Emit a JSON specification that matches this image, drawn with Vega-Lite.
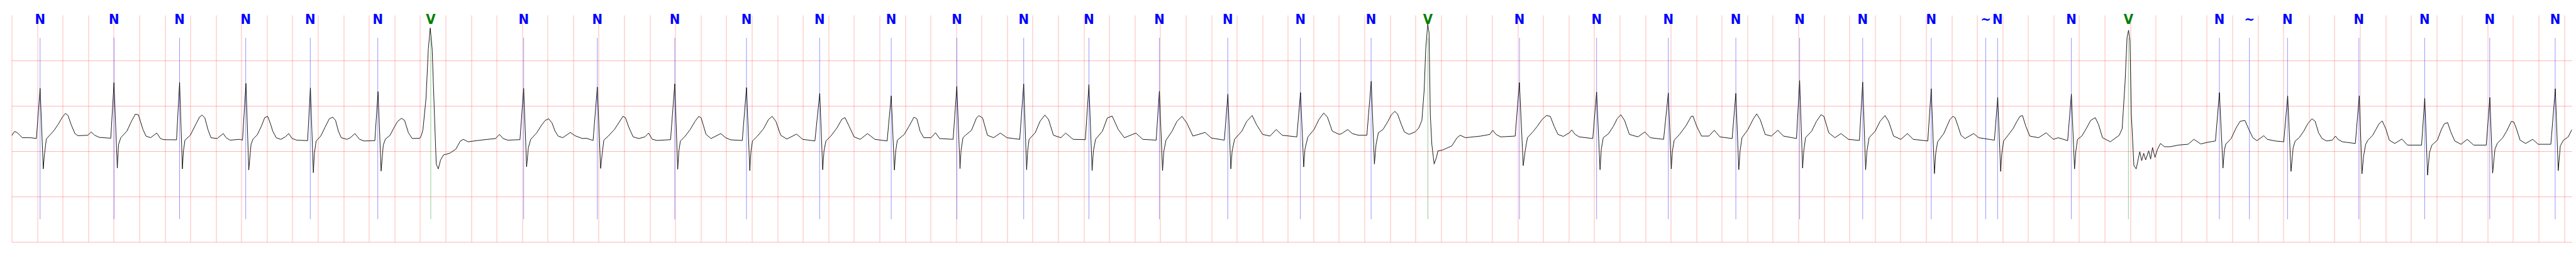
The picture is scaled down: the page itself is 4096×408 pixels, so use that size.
{
  "$schema": "https://vega.github.io/schema/vega-lite/v6.json",
  "width": 4071,
  "height": 360,
  "autosize": {"type": "none"},
  "padding": {"left": 18.5, "top": 24, "right": 6.5, "bottom": 24},
  "background": "white",
  "config": {
    "view": {"stroke": null},
    "axis": {"labels": false, "ticks": false, "domain": false, "grid": true, "gridColor": "#ff0000", "gridOpacity": 0.28, "gridWidth": 1}
  },
  "datasets": {
    "ecg": [
      {"t":0,"v":-0.16},{"t":0.023,"v":-0.065},{"t":0.041,"v":-0.087},{"t":0.065,"v":-0.149},{"t":0.083,"v":-0.203},{"t":0.149,"v":-0.203},{"t":0.194,"v":-0.221},{"t":0.223,"v":0.884},{"t":0.248,"v":-0.891},{"t":0.256,"v":-0.601},{"t":0.272,"v":-0.232},{"t":0.292,"v":-0.167},{"t":0.328,"v":-0.058},{"t":0.364,"v":0.087},{"t":0.4,"v":0.261},{"t":0.422,"v":0.333},{"t":0.442,"v":0.286},{"t":0.466,"v":0.087},{"t":0.496,"v":-0.112},{"t":0.52,"v":-0.159},{"t":0.598,"v":-0.149},{"t":0.622,"v":-0.076},{"t":0.651,"v":-0.149},{"t":0.687,"v":-0.196},{"t":0.777,"v":-0.214},{"t":0.802,"v":1.011},{"t":0.828,"v":-0.873},{"t":0.838,"v":-0.35},{"t":0.855,"v":-0.203},{"t":0.903,"v":-0.058},{"t":0.939,"v":0.159},{"t":0.969,"v":0.315},{"t":0.993,"v":0.304},{"t":1.029,"v":-0.022},{"t":1.053,"v":-0.167},{"t":1.089,"v":-0.203},{"t":1.137,"v":-0.101},{"t":1.166,"v":-0.221},{"t":1.19,"v":-0.246},{"t":1.292,"v":-0.25},{"t":1.316,"v":1.018},{"t":1.338,"v":-0.891},{"t":1.346,"v":-0.5},{"t":1.358,"v":-0.257},{"t":1.4,"v":-0.149},{"t":1.442,"v":0.087},{"t":1.472,"v":0.25},{"t":1.492,"v":0.297},{"t":1.514,"v":0.232},{"t":1.538,"v":-0.022},{"t":1.562,"v":-0.203},{"t":1.61,"v":-0.221},{"t":1.658,"v":-0.112},{"t":1.681,"v":-0.203},{"t":1.711,"v":-0.257},{"t":1.787,"v":-0.239},
      {"t":1.809,"v":-0.257},{"t":1.836,"v":0.993},{"t":1.858,"v":-0.917},{"t":1.876,"v":-0.348},{"t":1.892,"v":-0.232},{"t":1.925,"v":-0.138},{"t":1.957,"v":0.051},{"t":1.983,"v":0.239},{"t":2.006,"v":0.268},{"t":2.028,"v":0.105},{"t":2.046,"v":-0.058},{"t":2.073,"v":-0.203},{"t":2.109,"v":-0.239},{"t":2.144,"v":-0.185},{"t":2.171,"v":-0.112},{"t":2.198,"v":-0.221},{"t":2.234,"v":-0.257},{"t":2.319,"v":-0.268},{"t":2.341,"v":0.895},{"t":2.364,"v":-0.975},{"t":2.372,"v":-0.55},{"t":2.386,"v":-0.275},{"t":2.422,"v":-0.167},{"t":2.457,"v":0.033},{"t":2.489,"v":0.214},{"t":2.516,"v":0.25},{"t":2.538,"v":0.178},{"t":2.56,"v":-0.058},{"t":2.583,"v":-0.203},{"t":2.627,"v":-0.239},
      {"t":2.654,"v":-0.203},{"t":2.69,"v":-0.112},{"t":2.726,"v":-0.239},{"t":2.762,"v":-0.275},{"t":2.846,"v":-0.268},{"t":2.871,"v":0.812},{"t":2.895,"v":-0.938},{"t":2.912,"v":-0.366},{"t":2.929,"v":-0.232},{"t":2.965,"v":-0.149},{"t":2.995,"v":0.014},{"t":3.025,"v":0.159},{"t":3.055,"v":0.225},{"t":3.079,"v":0.178},{"t":3.109,"v":-0.094},{"t":3.139,"v":-0.221},{"t":3.199,"v":-0.214},{"t":3.211,"v":-0.15},{"t":3.223,"v":-0.022},{"t":3.247,"v":0.667},{"t":3.265,"v":1.754},{"t":3.28,"v":2.217},{"t":3.295,"v":1.75},{"t":3.313,"v":0.304},{"t":3.327,"v":-0.783},{"t":3.343,"v":-0.891},{"t":3.361,"v":-0.692},{"t":3.384,"v":-0.583},{"t":3.432,"v":-0.547},{"t":3.48,"v":-0.457},{"t":3.516,"v":-0.275},{"t":3.54,"v":-0.239},{"t":3.576,"v":-0.293},{"t":3.672,"v":-0.257},{"t":3.792,"v":-0.221},{"t":3.822,"v":-0.13},{"t":3.851,"v":-0.221},{"t":3.887,"v":-0.257},{"t":3.983,"v":-0.246},{"t":4.012,"v":0.884},{"t":4.035,"v":-0.844},{"t":4.049,"v":-0.42},{"t":4.067,"v":-0.239},{"t":4.115,"v":-0.094},{"t":4.151,"v":0.069},{"t":4.181,"v":0.178},{"t":4.208,"v":0.214},{"t":4.234,"v":0.123},{"t":4.258,"v":-0.058},{"t":4.282,"v":-0.167},{"t":4.318,"v":-0.203},{"t":4.378,"v":-0.087},{"t":4.414,"v":-0.159},{"t":4.472,"v":-0.221},
      {"t":4.502,"v":-0.214},{"t":4.556,"v":-0.264},{"t":4.589,"v":0.913},{"t":4.615,"v":-0.88},{"t":4.627,"v":-0.565},{"t":4.64,"v":-0.257},{"t":4.675,"v":-0.167},{"t":4.723,"v":-0.022},{"t":4.761,"v":0.141},{"t":4.79,"v":0.268},{"t":4.809,"v":0.239},{"t":4.838,"v":0.014},{"t":4.87,"v":-0.185},{"t":4.914,"v":-0.221},{"t":4.962,"v":-0.185},{"t":4.991,"v":-0.101},{"t":5.02,"v":-0.239},{"t":5.058,"v":-0.264},{"t":5.163,"v":-0.246},{"t":5.196,"v":0.986},{"t":5.219,"v":-0.899},{"t":5.228,"v":-0.5},{"t":5.24,"v":-0.275},{"t":5.278,"v":-0.167},{"t":5.317,"v":-0.022},{"t":5.355,"v":0.159},{"t":5.384,"v":0.268},{"t":5.403,"v":0.232},{"t":5.441,"v":-0.13},{"t":5.48,"v":-0.221},{"t":5.556,"v":-0.112},{"t":5.595,"v":-0.203},{"t":5.633,"v":-0.25},{"t":5.725,"v":-0.264},{"t":5.758,"v":0.902},{"t":5.784,"v":-0.928},{"t":5.793,"v":-0.5},{"t":5.805,"v":-0.275},{"t":5.844,"v":-0.167},{"t":5.892,"v":-0.004},{"t":5.93,"v":0.196},{"t":5.959,"v":0.268},{"t":5.988,"v":0.159},{"t":6.026,"v":-0.149},{"t":6.074,"v":-0.232},{"t":6.15,"v":-0.123},{"t":6.198,"v":-0.239},{"t":6.294,"v":-0.275},{"t":6.332,"v":0.775},{"t":6.355,"v":-0.909},{"t":6.365,"v":-0.5},{"t":6.38,"v":-0.275},{"t":6.419,"v":-0.167},{"t":6.467,"v":0.014},{"t":6.505,"v":0.203},{"t":6.53,"v":0.239},{"t":6.562,"v":0.051},{"t":6.601,"v":-0.185},{"t":6.649,"v":-0.239},{"t":6.706,"v":-0.112},{"t":6.764,"v":-0.239},{"t":6.86,"v":-0.275},{"t":6.892,"v":0.721},{"t":6.917,"v":-0.917},{"t":6.927,"v":-0.5},{"t":6.94,"v":-0.257},{"t":6.994,"v":-0.13},{"t":7.032,"v":0.051},{"t":7.07,"v":0.25},{"t":7.093,"v":0.214},{"t":7.118,"v":-0.058},{"t":7.147,"v":-0.203},{"t":7.204,"v":-0.203},{"t":7.239,"v":-0.094},{"t":7.271,"v":-0.221},{"t":7.377,"v":-0.239},{"t":7.406,"v":0.928},{"t":7.431,"v":-0.884},
      {"t":7.439,"v":-0.49},{"t":7.454,"v":-0.203},{"t":7.474,"v":-0.149},{"t":7.521,"v":-0.04},{"t":7.56,"v":0.232},{"t":7.579,"v":0.283},{"t":7.608,"v":0.232},{"t":7.646,"v":-0.149},{"t":7.694,"v":-0.203},{"t":7.747,"v":-0.101},{"t":7.799,"v":-0.203},{"t":7.899,"v":-0.239},{"t":7.93,"v":0.982},{"t":7.953,"v":-0.909},{"t":7.961,"v":-0.5},{"t":7.972,"v":-0.239},{"t":8.02,"v":-0.094},{"t":8.058,"v":0.159},{"t":8.096,"v":0.297},{"t":8.125,"v":0.196},{"t":8.163,"v":-0.149},{"t":8.221,"v":-0.203},{"t":8.259,"v":-0.101},{"t":8.317,"v":-0.239},{"t":8.413,"v":-0.246},{"t":8.441,"v":0.967},{"t":8.466,"v":-0.928},{"t":8.476,"v":-0.5},{"t":8.493,"v":-0.239},{"t":8.547,"v":-0.058},{"t":8.585,"v":0.232},{"t":8.623,"v":0.275},{"t":8.671,"v":-0.022},{"t":8.719,"v":-0.203},{"t":8.809,"v":-0.101},{"t":8.863,"v":-0.239},{"t":8.968,"v":-0.257},{"t":8.993,"v":0.822},{"t":9.018,"v":-0.928},{"t":9.028,"v":-0.5},{"t":9.045,"v":-0.257},{"t":9.093,"v":-0.058},{"t":9.131,"v":0.159},{"t":9.17,"v":0.268},{"t":9.208,"v":0.123},{"t":9.256,"v":-0.167},{"t":9.352,"v":-0.087},{"t":9.4,"v":-0.21},{"t":9.502,"v":-0.257},{"t":9.53,"v":0.757},{"t":9.553,"v":-0.891},{"t":9.563,"v":-0.5},{"t":9.582,"v":-0.239},{"t":9.639,"v":-0.058},{"t":9.678,"v":0.159},{"t":9.72,"v":0.286},{"t":9.754,"v":0.087},{"t":9.802,"v":-0.13},{"t":9.86,"v":-0.167},{"t":9.908,"v":-0.022},{"t":9.956,"v":-0.149},{"t":10.07,"v":-0.185},{"t":10.099,"v":0.793},{"t":10.124,"v":-0.848},{"t":10.134,"v":-0.45},{"t":10.157,"v":-0.185},{"t":10.205,"v":-0.022},{"t":10.243,"v":0.196},{"t":10.281,"v":0.341},{"t":10.31,"v":0.25},{"t":10.348,"v":-0.058},{"t":10.402,"v":-0.13},
      {"t":10.422,"v":-0.112},{"t":10.469,"v":-0.022},{"t":10.505,"v":-0.112},{"t":10.553,"v":-0.149},{"t":10.619,"v":-0.149},{"t":10.653,"v":1.043},{"t":10.678,"v":-0.783},{"t":10.691,"v":-0.348},{"t":10.709,"v":-0.094},{"t":10.745,"v":-0.022},{"t":10.781,"v":0.141},{"t":10.811,"v":0.304},{"t":10.838,"v":0.377},{"t":10.859,"v":0.322},{"t":10.889,"v":0.087},{"t":10.913,"v":-0.076},{"t":10.949,"v":-0.13},{"t":10.997,"v":-0.076},{"t":11.026,"v":0.014},{"t":11.05,"v":0.178},{"t":11.068,"v":0.848},{"t":11.08,"v":1.754},{"t":11.096,"v":2.304},{"t":11.106,"v":2.112},{"t":11.116,"v":0.304},{"t":11.128,"v":-0.348},{"t":11.146,"v":-0.783},{"t":11.164,"v":-0.638},{"t":11.176,"v":-0.493},{"t":11.212,"v":-0.475},{"t":11.284,"v":-0.384},{"t":11.326,"v":-0.203},{"t":11.35,"v":-0.149},{"t":11.392,"v":-0.203},{"t":11.511,"v":-0.167},{"t":11.583,"v":-0.13},{"t":11.605,"v":-0.04},{"t":11.631,"v":-0.13},{"t":11.667,"v":-0.185},{"t":11.781,"v":-0.167},{"t":11.814,"v":1.014},{"t":11.844,"v":-0.819},{"t":11.859,"v":-0.496},{"t":11.877,"v":-0.203},{"t":11.919,"v":-0.076},{"t":11.955,"v":0.051},{"t":11.991,"v":0.196},{"t":12.026,"v":0.286},{"t":12.056,"v":0.268},{"t":12.086,"v":0.051},{"t":12.116,"v":-0.13},{"t":12.158,"v":-0.174},{"t":12.206,"v":-0.094},{"t":12.224,"v":-0.033},{"t":12.251,"v":-0.13},
      {"t":12.283,"v":-0.185},{"t":12.389,"v":-0.221},{"t":12.419,"v":0.804},{"t":12.446,"v":-0.909},{"t":12.456,"v":-0.45},{"t":12.471,"v":-0.203},{"t":12.513,"v":-0.112},{"t":12.551,"v":0.051},{"t":12.58,"v":0.214},{"t":12.609,"v":0.304},{"t":12.638,"v":0.178},{"t":12.676,"v":-0.13},{"t":12.743,"v":-0.185},{"t":12.797,"v":-0.076},{"t":12.839,"v":-0.203},{"t":12.944,"v":-0.239},{"t":12.981,"v":0.783},{"t":13.004,"v":-0.891},{"t":13.013,"v":-0.5},{"t":13.027,"v":-0.257},{"t":13.069,"v":-0.13},{"t":13.117,"v":0.051},{"t":13.161,"v":0.268},{"t":13.174,"v":0.275},{"t":13.203,"v":0.051},{"t":13.241,"v":-0.167},{"t":13.299,"v":-0.167},{"t":13.341,"v":-0.04},{"t":13.385,"v":-0.185},{"t":13.481,"v":-0.221},{"t":13.51,"v":0.775},{"t":13.533,"v":-0.909},{"t":13.543,"v":-0.5},{"t":13.558,"v":-0.203},{"t":13.605,"v":-0.022},{"t":13.644,"v":0.196},{"t":13.673,"v":0.322},{"t":13.701,"v":0.196},{"t":13.74,"v":-0.13},{"t":13.788,"v":-0.167},{"t":13.839,"v":-0.04},{"t":13.883,"v":-0.167},{"t":13.985,"v":-0.221},{"t":14.01,"v":1.058},{"t":14.033,"v":-0.873},{"t":14.042,"v":-0.5},{"t":14.056,"v":-0.203},{"t":14.104,"v":-0.058},{"t":14.142,"v":0.159},{"t":14.177,"v":0.304},{"t":14.2,"v":0.268},{"t":14.238,"v":-0.094},{"t":14.286,"v":-0.203},{"t":14.334,"v":-0.112},{"t":14.392,"v":-0.239},{"t":14.478,"v":-0.264},{"t":14.504,"v":1.022},{"t":14.527,"v":-0.909},{"t":14.537,"v":-0.5},{"t":14.554,"v":-0.203},{"t":14.602,"v":-0.058},{"t":14.64,"v":0.159},{"t":14.679,"v":0.286},{"t":14.707,"v":0.159},{"t":14.746,"v":-0.167},{"t":14.803,"v":-0.239},{"t":14.855,"v":-0.112},{"t":14.899,"v":-0.239},{"t":15.014,"v":-0.275},{"t":15.041,"v":0.877},{"t":15.066,"v":-0.993},{"t":15.076,"v":-0.55},{"t":15.091,"v":-0.293},{"t":15.139,"v":-0.112},{"t":15.187,"v":0.196},{"t":15.211,"v":0.268},
      {"t":15.228,"v":0.239},{"t":15.251,"v":0.051},{"t":15.274,"v":-0.149},{"t":15.305,"v":-0.221},{"t":15.374,"v":-0.112},{"t":15.412,"v":-0.203},{"t":15.536,"v":-0.257},{"t":15.562,"v":0.685},{"t":15.585,"v":-0.946},{"t":15.594,"v":-0.55},{"t":15.608,"v":-0.275},{"t":15.643,"v":-0.149},{"t":15.682,"v":-0.004},{"t":15.713,"v":0.159},{"t":15.736,"v":0.268},{"t":15.756,"v":0.286},{"t":15.782,"v":0.051},{"t":15.813,"v":-0.167},{"t":15.882,"v":-0.203},{"t":15.941,"v":-0.094},{"t":15.998,"v":-0.239},{"t":16.036,"v":-0.203},{"t":16.11,"v":-0.268},{"t":16.139,"v":0.757},{"t":16.164,"v":-0.891},{"t":16.174,"v":-0.5},{"t":16.187,"v":-0.239},{"t":16.221,"v":-0.167},{"t":16.259,"v":0.014},{"t":16.29,"v":0.178},{"t":16.326,"v":0.239},{"t":16.352,"v":0.087},{"t":16.383,"v":-0.203},{"t":16.444,"v":-0.293},{"t":16.514,"v":-0.149},{"t":16.537,"v":-0.004},{"t":16.56,"v":1.029},{"t":16.575,"v":2.0},{"t":16.587,"v":2.167},{"t":16.598,"v":1.935},{"t":16.609,"v":0.304},{"t":16.629,"v":-0.819},{"t":16.647,"v":-0.891},{"t":16.675,"v":-0.511},{"t":16.69,"v":-0.71},{"t":16.706,"v":-0.547},{"t":16.721,"v":-0.692},{"t":16.745,"v":-0.493},{"t":16.76,"v":-0.674},{"t":16.775,"v":-0.42},{"t":16.794,"v":-0.638},{"t":16.814,"v":-0.457},{"t":16.837,"v":-0.33},{"t":16.868,"v":-0.402},{"t":16.914,"v":-0.402},{"t":16.976,"v":-0.366},{"t":17.053,"v":-0.348},{"t":17.099,"v":-0.239},{"t":17.153,"v":-0.341},{"t":17.207,"v":-0.304},{"t":17.268,"v":-0.275},{"t":17.299,"v":0.793},{"t":17.327,"v":-0.873},{"t":17.337,"v":-0.5},{"t":17.348,"v":-0.348},{"t":17.391,"v":-0.221},{"t":17.43,"v":0.014},{"t":17.461,"v":0.159},{"t":17.499,"v":0.178},{"t":17.53,"v":-0.022},{"t":17.561,"v":-0.203},
      {"t":17.593,"v":-0.268},{"t":17.647,"v":-0.159},{"t":17.674,"v":-0.239},{"t":17.736,"v":-0.275},{"t":17.803,"v":-0.293},{"t":17.834,"v":0.721},{"t":17.86,"v":-0.946},{"t":17.877,"v":-0.42},{"t":17.893,"v":-0.275},{"t":17.924,"v":-0.203},{"t":17.96,"v":-0.058},{"t":17.991,"v":0.105},{"t":18.024,"v":0.214},{"t":18.049,"v":0.159},{"t":18.076,"v":-0.094},{"t":18.103,"v":-0.221},{"t":18.138,"v":-0.275},{"t":18.183,"v":-0.257},{"t":18.208,"v":-0.167},{"t":18.228,"v":-0.239},{"t":18.263,"v":-0.293},
      {"t":18.364,"v":-0.33},{"t":18.395,"v":0.721},{"t":18.416,"v":-1.0},{"t":18.429,"v":-0.601},{"t":18.445,"v":-0.348},{"t":18.463,"v":-0.257},{"t":18.5,"v":-0.149},{"t":18.525,"v":-0.022},{"t":18.55,"v":0.105},{"t":18.575,"v":0.167},{"t":18.605,"v":-0.022},{"t":18.63,"v":-0.257},{"t":18.673,"v":-0.33},{"t":18.729,"v":-0.232},{"t":18.772,"v":-0.366},{"t":18.883,"v":-0.366},{"t":18.908,"v":0.667},{"t":18.93,"v":-1.029},{"t":18.945,"v":-0.529},{"t":18.964,"v":-0.366},{"t":19.007,"v":-0.257},{"t":19.038,"v":-0.022},{"t":19.062,"v":0.105},{"t":19.087,"v":0.13},{"t":19.112,"v":-0.076},{"t":19.143,"v":-0.275},{"t":19.192,"v":-0.348},{"t":19.241,"v":-0.239},{"t":19.291,"v":-0.366},{"t":19.39,"v":-0.366},{"t":19.418,"v":0.685},{"t":19.44,"v":-0.982},{"t":19.458,"v":-0.457},{"t":19.476,"v":-0.33},{"t":19.519,"v":-0.203},{"t":19.55,"v":-0.058},{"t":19.587,"v":0.159},{"t":19.606,"v":0.141},{"t":19.624,"v":0.014},{"t":19.655,"v":-0.257},{"t":19.698,"v":-0.33},{"t":19.754,"v":-0.239},{"t":19.797,"v":-0.348},{"t":19.896,"v":-0.348},{"t":19.931,"v":0.877},{"t":19.954,"v":-0.928},{"t":19.97,"v":-0.384},{"t":19.995,"v":-0.257},{"t":20.032,"v":-0.185},{"t":20.061,"v":-0.022}
    ],
    "ann": [
      {"t":0.223,"label":"N"},{"t":0.802,"label":"N"},{"t":1.316,"label":"N"},{"t":1.834,"label":"N"},{"t":2.34,"label":"N"},{"t":2.869,"label":"N"},{"t":3.284,"label":"V"},{"t":4.012,"label":"N"},{"t":4.589,"label":"N"},{"t":5.196,"label":"N"},{"t":5.758,"label":"N"},{"t":6.331,"label":"N"},{"t":6.892,"label":"N"},{"t":7.406,"label":"N"},{"t":7.93,"label":"N"},{"t":8.441,"label":"N"},{"t":8.993,"label":"N"},{"t":9.529,"label":"N"},{"t":10.098,"label":"N"},{"t":10.652,"label":"N"},{"t":11.097,"label":"V"},{"t":11.815,"label":"N"},{"t":12.419,"label":"N"},{"t":12.981,"label":"N"},{"t":13.51,"label":"N"},{"t":14.01,"label":"N"},{"t":14.504,"label":"N"},{"t":15.041,"label":"N"},{"t":15.468,"label":"~"},{"t":15.561,"label":"N"},{"t":16.139,"label":"N"},{"t":16.586,"label":"V"},{"t":17.299,"label":"N"},{"t":17.534,"label":"~"},{"t":17.833,"label":"N"},{"t":18.392,"label":"N"},{"t":18.907,"label":"N"},{"t":19.417,"label":"N"},{"t":19.93,"label":"N"}
    ]
  },
  "layer": [
    {
      "data": {"name": "ann"},
      "mark": {"type": "rule", "strokeWidth": 0.7, "opacity": 0.6},
      "encoding": {
        "x": {"field": "t", "type": "quantitative", "scale": {"domain": [0, 20.061], "nice": false, "zero": false},
          "axis": {"title": null,
            "values": [0,0.2,0.4,0.6,0.8,1,1.2,1.4,1.6,1.8,2,2.2,2.4,2.6,2.8,3,3.2,3.4,3.6,3.8,4,4.2,4.4,4.6,4.8,5,5.2,5.4,5.6,5.8,6,6.2,6.4,6.6,6.8,7,7.2,7.4,7.6,7.8,8,8.2,8.4,8.6,8.8,9,9.2,9.4,9.6,9.8,10,10.2,10.4,10.6,10.8,11,11.2,11.4,11.6,11.8,12,12.2,12.4,12.6,12.8,13,13.2,13.4,13.6,13.8,14,14.2,14.4,14.6,14.8,15,15.2,15.4,15.6,15.8,16,16.2,16.4,16.6,16.8,17,17.2,17.4,17.6,17.8,18,18.2,18.4,18.6,18.8,19,19.2,19.4,19.6,19.8,20]}},
        "y": {"datum": 2.0, "scale": {"domain": [-2.5, 2.5], "nice": false, "zero": false},
          "axis": {"title": null, "values": [-2.5,-2,-1.5,-1,-0.5,0,0.5,1,1.5,2]}},
        "y2": {"datum": -2.0},
        "color": {"field": "label", "type": "nominal", "scale": {"domain": ["N", "V", "~"], "range": ["#0000ff", "#008000", "#0000ff"]}, "legend": null}
      }
    },
    {
      "data": {"name": "ecg"},
      "mark": {"type": "line", "color": "black", "strokeWidth": 0.9, "strokeJoin": "round", "clip": true},
      "encoding": {
        "x": {"field": "t", "type": "quantitative", "scale": {"domain": [0, 20.061], "nice": false, "zero": false}, "axis": {"title": null}},
        "y": {"field": "v", "type": "quantitative", "scale": {"domain": [-2.5, 2.5], "nice": false, "zero": false}, "axis": {"title": null}}
      }
    },
    {
      "data": {"name": "ann"},
      "mark": {"type": "text", "font": "DejaVu Sans Condensed, DejaVu Sans", "fontWeight": "bold", "fontSize": 22, "align": "center", "baseline": "middle"},
      "encoding": {
        "x": {"field": "t", "type": "quantitative", "scale": {"domain": [0, 20.061], "nice": false, "zero": false}, "axis": {"title": null}},
        "y": {"datum": 2.4, "scale": {"domain": [-2.5, 2.5], "nice": false, "zero": false}, "axis": {"title": null}},
        "text": {"field": "label"},
        "color": {"field": "label", "type": "nominal", "scale": {"domain": ["N", "V", "~"], "range": ["#0000ff", "#008000", "#0000ff"]}, "legend": null}
      }
    }
  ]
}
